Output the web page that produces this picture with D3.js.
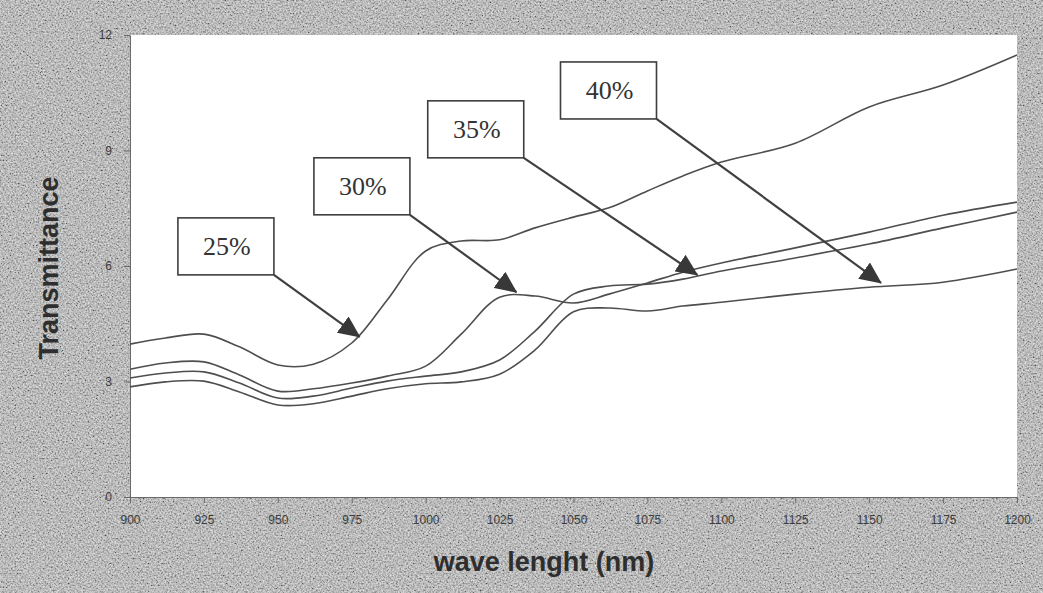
<!DOCTYPE html>
<html>
<head>
<meta charset="utf-8">
<script src="https://cdn.jsdelivr.net/npm/d3@7"></script>
<style>
  body { margin: 0; background: #bcbcbc; }
  svg { display: block; }
</style>
</head>
<body>
<svg id="chart" width="1043" height="593"></svg>
<script>
"use strict";

// data
const wavelength = [900, 912, 925, 937, 950, 962, 975, 987, 1000, 1012, 1025, 1037, 1050, 1062, 1075, 1087, 1100, 1125, 1150, 1175, 1200];

const t25 = [3.97, 4.13, 4.23, 3.90, 3.43, 3.45, 4.00, 5.12, 6.39, 6.65, 6.68, 6.99, 7.27, 7.51, 7.95, 8.34, 8.70, 9.19, 10.13, 10.70, 11.48];
const t30 = [3.32, 3.48, 3.51, 3.17, 2.75, 2.81, 2.96, 3.14, 3.40, 4.23, 5.19, 5.22, 5.04, 5.27, 5.56, 5.84, 6.08, 6.47, 6.88, 7.32, 7.66];
const t35 = [3.09, 3.22, 3.25, 2.96, 2.57, 2.62, 2.83, 3.01, 3.14, 3.25, 3.56, 4.31, 5.27, 5.48, 5.53, 5.66, 5.87, 6.21, 6.57, 6.99, 7.40];
const t40 = [2.86, 2.99, 3.01, 2.73, 2.39, 2.42, 2.62, 2.81, 2.94, 2.99, 3.19, 3.82, 4.81, 4.91, 4.83, 4.96, 5.06, 5.27, 5.45, 5.58, 5.92];

const seriesNames = ["25%", "30%", "35%", "40%"];
const seriesValues = [t25, t30, t35, t40];

const xTicks = [900, 925, 950, 975, 1000, 1025, 1050, 1075, 1100, 1125, 1150, 1175, 1200];
const yTicks = [0, 3, 6, 9, 12];

// callouts: box top-left and arrow tip, in data units
const calloutBox = [[916.2, 7.25], [962.2, 8.81], [1000.7, 10.29], [1045.6, 11.30]];
const calloutTip = [[977.7, 4.16], [1030.7, 5.32], [1091.9, 5.77], [1154.0, 5.56]];


    // layout
var plotLeft = 130,
    plotRight = 1017,
    plotTop = 35,
    plotBottom = 497;

var x = d3.scaleLinear().domain([900, 1200]).range([plotLeft, plotRight]);
var y = d3.scaleLinear().domain([0, 12]).range([plotBottom, plotTop]);

var svg = d3.select("#chart");


    // scanned paper texture
var defs = svg.append("defs");

var noise = defs.append("filter")
        .attr("id", "grain")
        .attr("x", 0).attr("y", 0)
        .attr("width", "100%").attr("height", "100%");

    noise.append("feTurbulence")
        .attr("type", "fractalNoise")
        .attr("baseFrequency", 0.6)
        .attr("numOctaves", 2)
        .attr("seed", 7);

    noise.append("feColorMatrix")
        .attr("type", "matrix")
        .attr("values", "1.6 0 0 0 -0.3  1.6 0 0 0 -0.3  1.6 0 0 0 -0.3  0 0 0 0 0.55");

defs.append("marker")
        .attr("id", "head")
        .attr("viewBox", "0 0 22 20")
        .attr("refX", 21)
        .attr("refY", 10)
        .attr("markerWidth", 22)
        .attr("markerHeight", 20)
        .attr("markerUnits", "userSpaceOnUse")
        .attr("orient", "auto")
    .append("path")
        .attr("d", "M0,0 L22,10 L0,20 Z")
        .attr("fill", "#383838");

svg.append("rect")
        .attr("width", 1043)
        .attr("height", 593)
        .attr("fill", "#b9b9b9");

svg.append("rect")
        .attr("width", 1043)
        .attr("height", 593)
        .attr("filter", "url(#grain)");


    // plot area
svg.append("rect")
        .attr("x", plotLeft)
        .attr("y", plotTop)
        .attr("width", plotRight - plotLeft)
        .attr("height", plotBottom - plotTop)
        .attr("fill", "#ffffff");


    // axes
var xAxis = svg.append("g")
        .attr("transform", "translate(0," + plotBottom + ")")
        .call(d3.axisBottom(x).tickValues(xTicks).tickFormat(d3.format("d"))
            .tickSize(6).tickSizeOuter(0).tickPadding(12));

var yAxis = svg.append("g")
        .attr("transform", "translate(" + plotLeft + ",0)")
        .call(d3.axisLeft(y).tickValues(yTicks).tickFormat(d3.format("d"))
            .tickSize(6).tickSizeOuter(0).tickPadding(12));

[xAxis, yAxis].forEach(function (ax) {
    ax.selectAll("path, line").attr("stroke", "#6a6a6a");
    ax.selectAll("text")
        .attr("fill", "#3c3c3c")
        .style("font-family", "'Liberation Sans', Arial, sans-serif")
        .style("font-size", "12px");
});


    // curves
var line = d3.line()
        .x(function (d, i) { return x(wavelength[i]); })
        .y(function (d) { return y(d); })
        .curve(d3.curveCatmullRom.alpha(0.5));

svg.append("g")
    .selectAll("path")
    .data(seriesValues)
    .join("path")
        .attr("d", line)
        .attr("fill", "none")
        .attr("stroke", "#4e4e4e")
        .attr("stroke-width", 1.6);


    // callout boxes and arrows
var boxW = 96,
    boxH = 57;

var callouts = svg.append("g")
    .selectAll("g")
    .data(seriesNames)
    .join("g");

callouts.append("line")
        .attr("x1", function (d, i) { return x(calloutBox[i][0]) + boxW; })
        .attr("y1", function (d, i) { return y(calloutBox[i][1]) + boxH; })
        .attr("x2", function (d, i) { return x(calloutTip[i][0]); })
        .attr("y2", function (d, i) { return y(calloutTip[i][1]); })
        .attr("stroke", "#404040")
        .attr("stroke-width", 2.2)
        .attr("marker-end", "url(#head)");

callouts.append("rect")
        .attr("x", function (d, i) { return x(calloutBox[i][0]); })
        .attr("y", function (d, i) { return y(calloutBox[i][1]); })
        .attr("width", boxW)
        .attr("height", boxH)
        .attr("fill", "#ffffff")
        .attr("stroke", "#3e3e3e")
        .attr("stroke-width", 1.6);

callouts.append("text")
        .attr("x", function (d, i) { return x(calloutBox[i][0]) + boxW / 2 + 1; })
        .attr("y", function (d, i) { return y(calloutBox[i][1]) + 37; })
        .attr("text-anchor", "middle")
        .attr("fill", "#333333")
        .style("font-family", "'Liberation Serif', 'Times New Roman', serif")
        .style("font-size", "26px")
        .text(function (d) { return d; });


    // axis titles
svg.append("text")
        .attr("transform", "translate(58,268) rotate(-90)")
        .attr("text-anchor", "middle")
        .attr("fill", "#2e2e2e")
        .style("font-family", "'Liberation Sans', Arial, sans-serif")
        .style("font-weight", "bold")
        .style("font-size", "27px")
        .text("Transmittance");

svg.append("text")
        .attr("x", 544)
        .attr("y", 571)
        .attr("text-anchor", "middle")
        .attr("fill", "#2e2e2e")
        .style("font-family", "'Liberation Sans', Arial, sans-serif")
        .style("font-weight", "bold")
        .style("font-size", "27px")
        .text("wave lenght (nm)");

</script>
</body>
</html>
